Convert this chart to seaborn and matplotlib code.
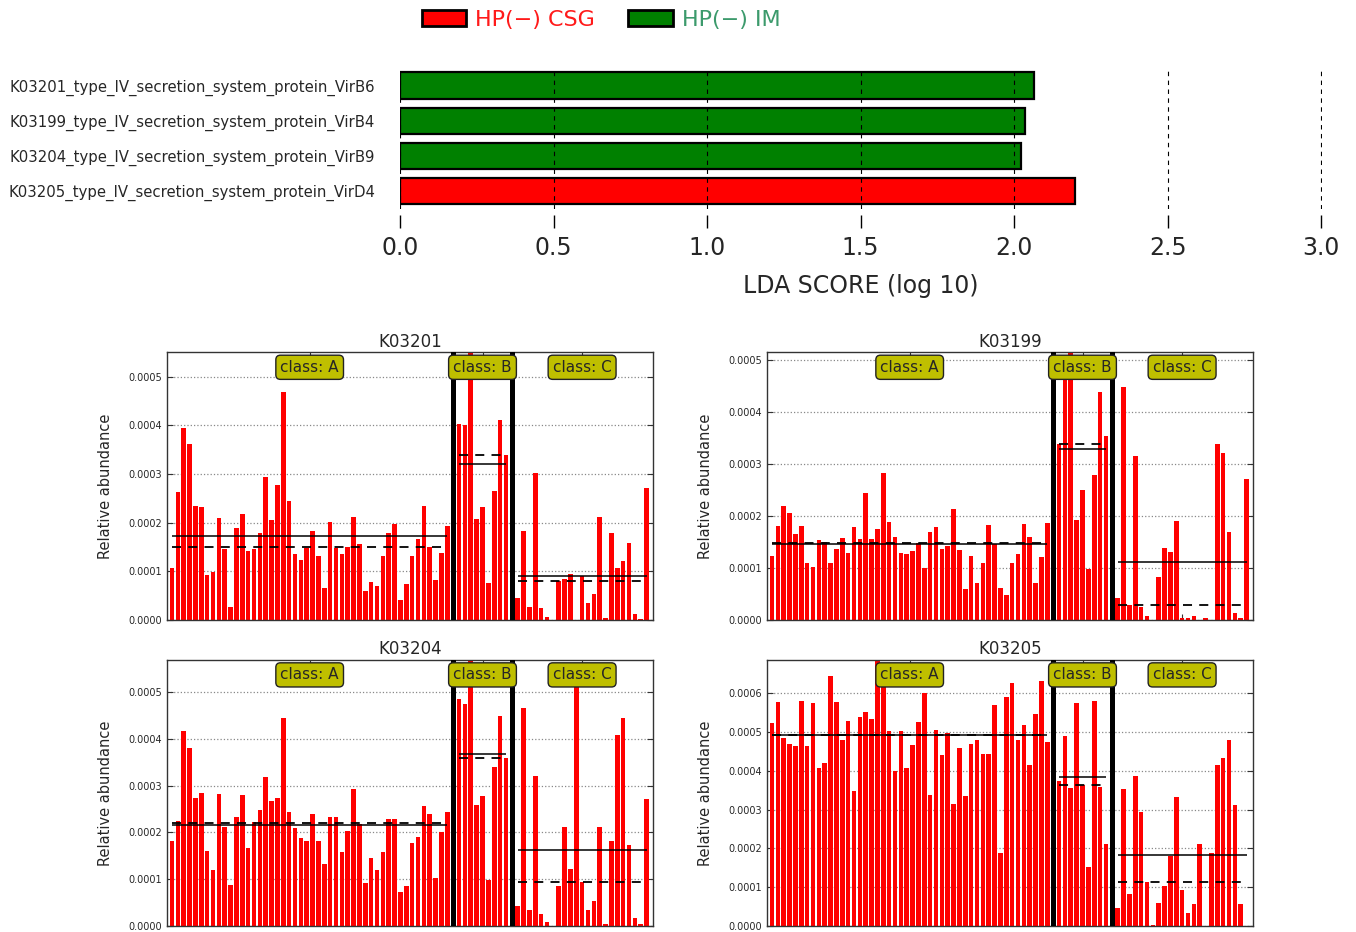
import numpy as np
import pandas as pd
import matplotlib
matplotlib.use("Agg")
import matplotlib.pyplot as plt
from matplotlib.patches import Patch
from matplotlib.ticker import MultipleLocator, FormatStrFormatter
import seaborn as sns

sns.set_style("white")
plt.rcParams["font.family"] = ["DejaVu Sans"]

# ---------------------------------------------------------------------------
# LDA scores (top panel)
# ---------------------------------------------------------------------------
LDA_FEATURES = [
    "K03201_type_IV_secretion_system_protein_VirB6",
    "K03199_type_IV_secretion_system_protein_VirB4",
    "K03204_type_IV_secretion_system_protein_VirB9",
    "K03205_type_IV_secretion_system_protein_VirD4",
]
LDA_SCORES = [2.064, 2.037, 2.023, 2.199]
LDA_CLASS = ["HP(−) IM", "HP(−) IM", "HP(−) IM", "HP(−) CSG"]
LEGEND_ORDER = ["HP(−) CSG", "HP(−) IM"]
CLASS_COLORS = {"HP(−) CSG": "#ff0000", "HP(−) IM": "#008000"}
LEGEND_TEXT_COLORS = {"HP(−) CSG": "#ff1a1a", "HP(−) IM": "#3c9a6c"}

# ---------------------------------------------------------------------------
# Relative abundance per sample, split by class (A / B / C)
# ---------------------------------------------------------------------------
CLASS_NAMES = ["A", "B", "C"]

K03201_A = [0.000106, 0.000264, 0.000394, 0.000362, 0.000234, 0.000233, 0.0000925, 0.0000993,
            0.000209, 0.000146, 0.0000274, 0.00019, 0.000218, 0.000142, 0.000145, 0.000179,
            0.000293, 0.000205, 0.000277, 0.000469, 0.000245, 0.000136, 0.000123, 0.000147,
            0.000183, 0.000132, 0.0000664, 0.000201, 0.000147, 0.000135, 0.000151, 0.000212,
            0.000156, 0.0000603, 0.0000788, 0.0000699, 0.000132, 0.000178, 0.000197, 0.0000411,
            0.0000733, 0.000132, 0.000166, 0.000234, 0.000151, 0.0000822, 0.000137, 0.000193]
K03201_B = [0.000403, 0.0004, 0.00055, 0.000208, 0.000233, 0.0000767, 0.000266, 0.000411, 0.000338]
K03201_C = [0.0000445, 0.000182, 0.0000274, 0.000301, 0.000024, 0.0000068, 0.0, 0.00008,
            0.0000836, 0.0000945, 0.0, 0.0000904, 0.0000342, 0.0000527, 0.000212, 0.0000034,
            0.000179, 0.000106, 0.000122, 0.000158, 0.0000123, 0.0000014, 0.000271]

K03199_A = [0.000123, 0.000181, 0.00022, 0.000205, 0.000165, 0.000181, 0.00011, 0.000101,
            0.000154, 0.000151, 0.000109, 0.000137, 0.000157, 0.000129, 0.000178, 0.000156,
            0.000244, 0.000155, 0.000176, 0.000283, 0.000188, 0.000159, 0.000128, 0.000127,
            0.000133, 0.000149, 0.0001, 0.000169, 0.000178, 0.000137, 0.000142, 0.000214,
            0.000135, 0.0000596, 0.000124, 0.0000705, 0.000109, 0.000182, 0.000147, 0.0000609,
            0.0000481, 0.000109, 0.000127, 0.000185, 0.00016, 0.0000705, 0.000122, 0.000186]
K03199_B = [0.000338, 0.00049, 0.000515, 0.000192, 0.000251, 0.0000974, 0.000279, 0.000439, 0.000354]
K03199_C = [0.0000429, 0.000449, 0.0000288, 0.000316, 0.0000256, 0.0000083, 0.0, 0.0000833,
            0.000138, 0.000131, 0.000191, 0.000003, 0.0000045, 0.0000083, 0.0, 0.0000032,
            0.0, 0.000338, 0.000322, 0.000169, 0.0000141, 0.0000032, 0.000271]

K03204_A = [0.000181, 0.000225, 0.000417, 0.000381, 0.000274, 0.000283, 0.000161, 0.000119,
            0.000281, 0.000212, 0.0000874, 0.000232, 0.000279, 0.000166, 0.000222, 0.000248,
            0.000319, 0.000267, 0.000273, 0.000444, 0.000243, 0.000209, 0.000188, 0.000181,
            0.00024, 0.000181, 0.000133, 0.000232, 0.000232, 0.000159, 0.000202, 0.000293,
            0.000217, 0.000091, 0.000145, 0.000119, 0.000157, 0.000229, 0.000229, 0.0000726,
            0.000086, 0.000178, 0.00019, 0.000257, 0.000239, 0.000102, 0.0002, 0.000243]
K03204_B = [0.000484, 0.000474, 0.000568, 0.000259, 0.000277, 0.0000987, 0.00034, 0.000449, 0.000359]
K03204_C = [0.0000437, 0.000465, 0.0000331, 0.00032, 0.0000261, 0.0000085, 0.0, 0.000086,
            0.000211, 0.000121, 0.000513, 0.0000931, 0.0000346, 0.0000543, 0.000212, 0.0000035,
            0.000181, 0.000407, 0.000444, 0.000172, 0.0000169, 0.0000035, 0.000271]

K03205_A = [0.000524, 0.000578, 0.000486, 0.00047, 0.000465, 0.000581, 0.000463, 0.000576,
            0.000407, 0.000421, 0.000644, 0.000578, 0.00048, 0.000528, 0.000348, 0.000539,
            0.000551, 0.000534, 0.000686, 0.00062, 0.000502, 0.000401, 0.000502, 0.000408,
            0.000468, 0.000525, 0.000602, 0.000337, 0.000506, 0.00044, 0.000497, 0.000314,
            0.000459, 0.000334, 0.00047, 0.00048, 0.000444, 0.000444, 0.00057, 0.000189,
            0.000591, 0.000626, 0.00048, 0.000518, 0.000414, 0.000547, 0.000632, 0.000474]
K03205_B = [0.000374, 0.000491, 0.000357, 0.000574, 0.000363, 0.000153, 0.000581, 0.000359, 0.000212]
K03205_C = [0.0000452, 0.000353, 0.0000819, 0.000387, 0.000294, 0.000113, 0.0000026, 0.0000606,
            0.000103, 0.00018, 0.000332, 0.000093, 0.0000341, 0.000058, 0.000212, 0.0,
            0.000189, 0.000415, 0.000434, 0.00048, 0.000313, 0.0000563, 0.0]

W, H = 1356, 932


def px_axes(fig, left, top, right, bottom):
    """Add an axes given its pixel box (origin top-left)."""
    return fig.add_axes([left / W, 1 - bottom / H, (right - left) / W, (bottom - top) / H])


def plot_lda(fig):
    ax = px_axes(fig, 400, 68, 1322, 208.6)
    df = pd.DataFrame({"feature": LDA_FEATURES, "score": LDA_SCORES, "cls": LDA_CLASS})
    sns.barplot(data=df, x="score", y="feature", hue="cls", palette=CLASS_COLORS,
                dodge=False, saturation=1, width=0.75, edgecolor="black", linewidth=1.6,
                legend=False, ax=ax)
    ax.set_xlim(0, 3.003)
    ax.set_xticks(np.arange(0, 3.01, 0.5))
    ax.xaxis.set_major_formatter(FormatStrFormatter("%.1f"))
    ax.xaxis.grid(True, linestyle=(0, (4, 4)), color="black", linewidth=0.8)
    ax.yaxis.grid(False)
    ax.set_axisbelow(False)
    for side in ["top", "right", "left", "bottom"]:
        ax.spines[side].set_visible(False)
    ax.spines["bottom"].set_position(("outward", 4.5))
    ax.tick_params(axis="x", bottom=True, direction="out", length=9, width=1,
                   color="black", labelsize=17, pad=6)
    ax.tick_params(axis="y", left=False, length=0, labelsize=10.75, pad=18)
    ax.set_xlabel("LDA SCORE (log 10)", fontsize=17, labelpad=10)
    ax.set_ylabel("")

    handles = [Patch(facecolor=CLASS_COLORS[c], edgecolor="black", linewidth=2, label=c)
               for c in LEGEND_ORDER]
    leg = fig.legend(handles=handles, loc="center", bbox_to_anchor=(601 / W, 1 - 20 / H),
                     ncol=2, frameon=False, fontsize=16, handlelength=2.0,
                     handletextpad=0.4, columnspacing=1.5)
    for txt, c in zip(leg.get_texts(), LEGEND_ORDER):
        txt.set_color(LEGEND_TEXT_COLORS[c])


def plot_feature(ax, title, groups):
    rows = []
    spans = []
    pos = 0
    for cls, vals in zip(CLASS_NAMES, groups):
        start = pos
        for v in vals:
            rows.append({"pos": pos, "value": v, "cls": cls})
            pos += 1
        spans.append((start, pos - 1))
        pos += 1  # empty slot used by the class separator
    df = pd.DataFrame(rows)

    sns.barplot(data=df, x="pos", y="value", native_scale=True, color="#ff0000",
                saturation=1, width=0.78, linewidth=0, errorbar=None, ax=ax)

    ax.set_ylim(0, df["value"].max())
    ax.set_xlim(-0.8, spans[-1][1] + 1.05)

    # mean (solid) and median (dashed) of each class
    for (s, e), vals in zip(spans, groups):
        ax.hlines(np.mean(vals), s, e, colors="black", linewidth=1.1, zorder=3)
        ax.hlines(np.median(vals), s, e, colors="black", linewidth=1.3,
                  linestyles=(0, (5, 4)), zorder=3)

    # thick separators between classes
    for s, e in spans[:-1]:
        ax.axvline(e + 1, color="black", linewidth=3.6, zorder=3)

    for cls, (s, e) in zip(CLASS_NAMES, spans):
        ax.text((s + e) / 2, 0.944, f"class: {cls}", transform=ax.get_xaxis_transform(),
                ha="center", va="center", fontsize=11, zorder=5,
                bbox=dict(boxstyle="round,pad=0.3", facecolor=(0.75, 0.75, 0.0),
                          edgecolor="#222222", linewidth=1))

    ax.set_xticks([(s + e) / 2 for s, e in spans])
    ax.set_xticklabels([])
    ax.yaxis.set_major_locator(MultipleLocator(0.0001))
    ax.yaxis.set_major_formatter(FormatStrFormatter("%.4f"))
    ax.tick_params(axis="both", direction="in", length=4, width=0.8, color="#333333",
                   top=True, bottom=True, left=True, right=True, labelsize=7)
    ax.yaxis.grid(True, linestyle=":", color="#888888", linewidth=0.9)
    ax.xaxis.grid(False)
    ax.set_axisbelow(True)
    for sp in ax.spines.values():
        sp.set_color("#333333")
        sp.set_linewidth(1.0)
    ax.set_title(title, fontsize=12, pad=4)
    ax.set_xlabel("")
    ax.set_ylabel("Relative abundance", fontsize=10.5, labelpad=11)


fig = plt.figure(figsize=(W / 100, H / 100), dpi=100)
plot_lda(fig)

panels = [
    ("K03201", [K03201_A, K03201_B, K03201_C], (167.3, 352.3, 652.7, 620.0)),
    ("K03199", [K03199_A, K03199_B, K03199_C], (767.3, 352.3, 1252.7, 620.0)),
    ("K03204", [K03204_A, K03204_B, K03204_C], (167.3, 660.0, 652.7, 926.0)),
    ("K03205", [K03205_A, K03205_B, K03205_C], (767.3, 660.0, 1252.7, 926.0)),
]
for title, groups, box in panels:
    ax = px_axes(fig, *box)
    plot_feature(ax, title, groups)

fig.savefig("out.png", dpi=100)
